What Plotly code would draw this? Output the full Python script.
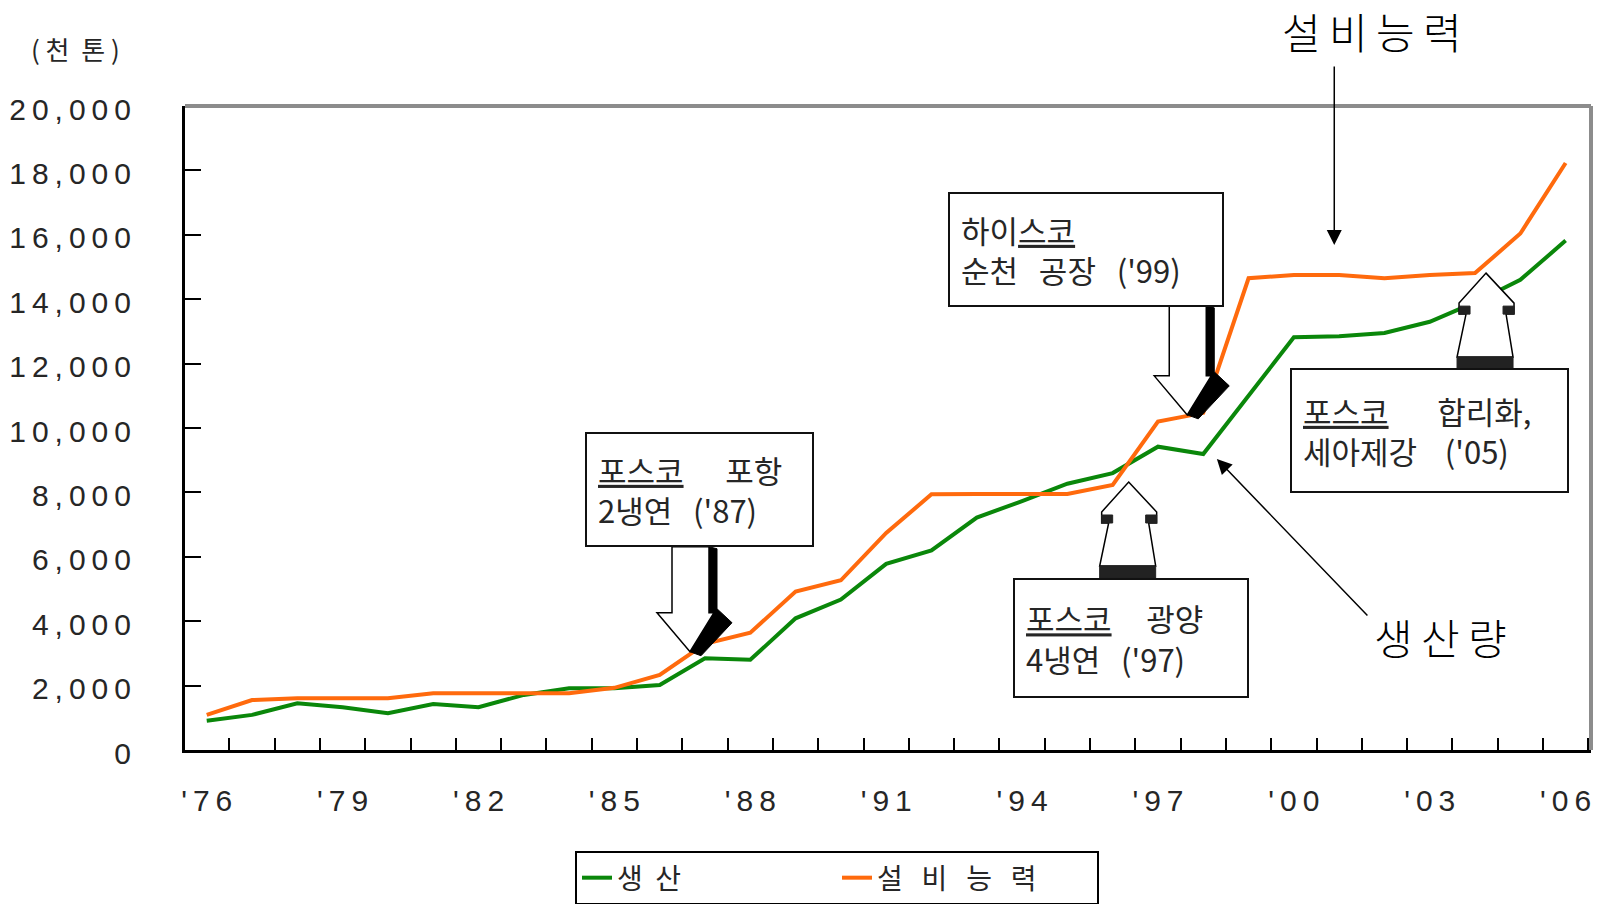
import plotly.graph_objects as go

# ---------------- data ----------------
years = list(range(1976, 2007))
production = [910, 1090, 1450, 1330, 1140, 1430, 1330, 1710, 1920, 1920,
              2020, 2850, 2800, 4090, 4670, 5780, 6200, 7220, 7730, 8270,
              8600, 9420, 9190, 11000, 12820, 12850, 12950, 13300, 13900, 14600, 15820]
capacity = [1090, 1550, 1610, 1610, 1610, 1760, 1760, 1760, 1760, 1930,
            2330, 3300, 3640, 4920, 5270, 6740, 7940, 7950, 7950, 7950,
            8230, 10200, 10470, 14650, 14750, 14750, 14650, 14750, 14810, 16040, 18230]
series_names = ["생\u00a0\u00a0산",
                "설\u00a0\u00a0\u00a0비\u00a0\u00a0\u00a0능\u00a0\u00a0\u00a0력"]
x_tick_years = years[::3]
x_tick_labels = ["'76", "'79", "'82", "'85", "'88", "'91", "'94", "'97", "'00", "'03", "'06"]
y_tick_values = list(range(0, 20001, 2000))
y_tick_labels = ["0", "2,000", "4,000", "6,000", "8,000", "10,000",
                 "12,000", "14,000", "16,000", "18,000", "20,000"]
unit_label = "(\u00a0천\u00a0\u00a0톤\u00a0)"
callout_capacity = "설비능력"
callout_production = "생산량"

GREEN = "#0a870a"
ORANGE = "#ff6a0d"
TXT = "#262626"
KR = "Noto Sans CJK KR"
NB = "\u00a0"


def spaced(s):
    return "\u2009".join(s)


fig = go.Figure()
fig.add_trace(go.Scatter(x=years, y=production, mode="lines", name=series_names[0],
                         line=dict(color=GREEN, width=4)))
fig.add_trace(go.Scatter(x=years, y=capacity, mode="lines", name=series_names[1],
                         line=dict(color=ORANGE, width=4)))


def poly(points):
    return "M" + " L".join(f"{x},{y}" for x, y in points) + " Z"


shapes = []


def down_arrow(xa, ya, tx, ty, L):
    white = [(tx - 18, ty + L), (tx + 19, ty + L), (tx + 19, ty + 39), (tx + 24, ty + 39),
             (tx, ty), (tx - 33, ty + 39), (tx - 18, ty + 39)]
    black = [(tx + 19, ty + L), (tx + 27, ty + L - 2), (tx + 27, ty + 43), (tx + 42, ty + 29),
             (tx + 11, ty - 4), (tx, ty), (tx + 24, ty + 39), (tx + 19, ty + 39)]
    base = dict(type="path", xref="x", yref="y", xsizemode="pixel", ysizemode="pixel",
                xanchor=xa, yanchor=ya, layer="above")
    shapes.append(dict(base, path=poly(black), fillcolor="black", line=dict(color="black", width=1)))
    shapes.append(dict(base, path=poly(white), fillcolor="white", line=dict(color="black", width=1.5)))


def up_tower(xa, ya, tx, ty):
    outline = [(tx, ty), (tx + 28, ty - 30), (tx + 28, ty - 41), (tx + 20, ty - 41),
               (tx + 27, ty - 84), (tx - 29, ty - 84), (tx - 20, ty - 41),
               (tx - 27, ty - 41), (tx - 27, ty - 30)]
    bar = [(tx - 29, ty - 84), (tx + 27, ty - 84), (tx + 27, ty - 96), (tx - 29, ty - 96)]
    rwing = [(tx + 17, ty - 33), (tx + 28, ty - 33), (tx + 28, ty - 41), (tx + 17, ty - 41)]
    lwing = [(tx - 27, ty - 33), (tx - 16, ty - 33), (tx - 16, ty - 41), (tx - 27, ty - 41)]
    base = dict(type="path", xref="x", yref="y", xsizemode="pixel", ysizemode="pixel",
                xanchor=xa, yanchor=ya, layer="above")
    shapes.append(dict(base, path=poly(outline), fillcolor="white", line=dict(color="black", width=1.5)))
    for p in (bar, rwing, lwing):
        shapes.append(dict(base, path=poly(p), fillcolor="#222222", line=dict(color="#222222", width=1)))


down_arrow(years[11], capacity[11], -15, -8, 105)
down_arrow(years[22], capacity[22], -16, -2, 109)
up_tower(years[20], capacity[20], 16, 3)
up_tower(years[28], capacity[28], 11, 0)

# grey top / right frame
shapes.append(dict(type="line", xref="paper", yref="paper", x0=0, x1=1, y0=1, y1=1,
                   line=dict(color="#8c8c8c", width=4)))
shapes.append(dict(type="line", xref="paper", yref="paper", x0=1, x1=1, y0=0, y1=1,
                   line=dict(color="#8c8c8c", width=4)))

annotations = []


def box(xa, ya, dx, dy, W, H, text):
    annotations.append(dict(x=xa, y=ya, xref="x", yref="y", xanchor="left", yanchor="top",
                            xshift=dx, yshift=dy, showarrow=False, text=text,
                            align="left", valign="middle", width=W - 26, height=H - 26,
                            bordercolor="#111111", borderwidth=2, borderpad=11, bgcolor="white",
                            font=dict(family=KR, size=31, color=TXT)))


box(years[11], capacity[11], -120, 212, 229, 115,
    "<u>포스코</u>" + NB * 6 + "포항<br>2냉연" + NB * 3 + "('87)")
box(years[22], capacity[22], -255, 221, 276, 115,
    "하이<u>스코</u><br>순천" + NB * 3 + "공장" + NB * 3 + "('99)")
box(years[20], capacity[20], -100, -93, 236, 120,
    "<u>포스코</u>" + NB * 5 + "광양<br>4냉연" + NB * 3 + "('97)")
box(years[28], capacity[28], -185, -95, 279, 125,
    "<u>포스코</u>" + NB * 7 + "합리화,<br>세아제강" + NB * 4 + "('05)")

# callout labels
annotations.append(dict(x=0.8443, y=1.1165, xref="paper", yref="paper", showarrow=False,
                        xanchor="center", yanchor="middle", text=spaced(callout_capacity),
                        font=dict(family=KR, size=42, color="black", weight=300)))
annotations.append(dict(x=0.8931, y=0.177, xref="paper", yref="paper", showarrow=False,
                        xanchor="center", yanchor="middle", text=spaced(callout_production),
                        font=dict(family=KR, size=42, color="black", weight=300)))
annotations.append(dict(x=0.8174, y=0.7842, xref="paper", yref="paper", text="",
                        showarrow=True, ax=0, ay=-180, arrowhead=2, arrowsize=2,
                        arrowwidth=1.5, arrowcolor="black"))
annotations.append(dict(x=0.7339, y=0.4519, xref="paper", yref="paper", text="",
                        showarrow=True, ax=152, ay=158, arrowhead=2, arrowsize=2,
                        arrowwidth=1.5, arrowcolor="black"))
annotations.append(dict(x=-0.0778, y=1.090, xref="paper", yref="paper", showarrow=False,
                        xanchor="center", yanchor="middle",
                        text=unit_label, font=dict(family=KR, size=26, color=TXT)))

fig.update_layout(
    width=1611, height=904,
    margin=dict(l=185, r=20, t=106, b=154, autoexpand=False),
    paper_bgcolor="white", plot_bgcolor="white",
    font=dict(family="Liberation Sans", color=TXT),
    shapes=shapes, annotations=annotations,
    showlegend=True,
    legend=dict(orientation="h", x=0.2774, xanchor="left", y=-0.1568, yanchor="top",
                bordercolor="black", borderwidth=2, bgcolor="white",
                font=dict(family=KR, size=28, color=TXT),
                entrywidth=215, entrywidthmode="pixels", itemclick=False),
    xaxis=dict(range=[1975.52, 2006.56], showline=True, linecolor="black", linewidth=3,
               showgrid=False, zeroline=False, tickmode="array", tickvals=x_tick_years,
               ticktext=[spaced(s) for s in x_tick_labels], ticks="",
               tickfont=dict(family="Liberation Sans", size=30, color=TXT),
               ticklabelstandoff=22,
               minor=dict(tickmode="linear", tick0=1975.5, dtick=1, ticks="inside",
                          ticklen=12, tickwidth=2, tickcolor="black", showgrid=False)),
    yaxis=dict(range=[0, 20000], showline=True, linecolor="black", linewidth=3,
               showgrid=False, zeroline=False, tickmode="array", tickvals=y_tick_values,
               ticktext=[spaced(s) for s in y_tick_labels], ticks="inside",
               ticklen=16, tickwidth=2, tickcolor="black",
               tickfont=dict(family="Liberation Sans", size=30, color=TXT),
               ticklabelstandoff=45, ticklabelshift=3),
)

fig.write_html("out.html", config={"displayModeBar": False},
               post_script="document.body.style.margin='0';document.body.style.overflow='hidden';")
